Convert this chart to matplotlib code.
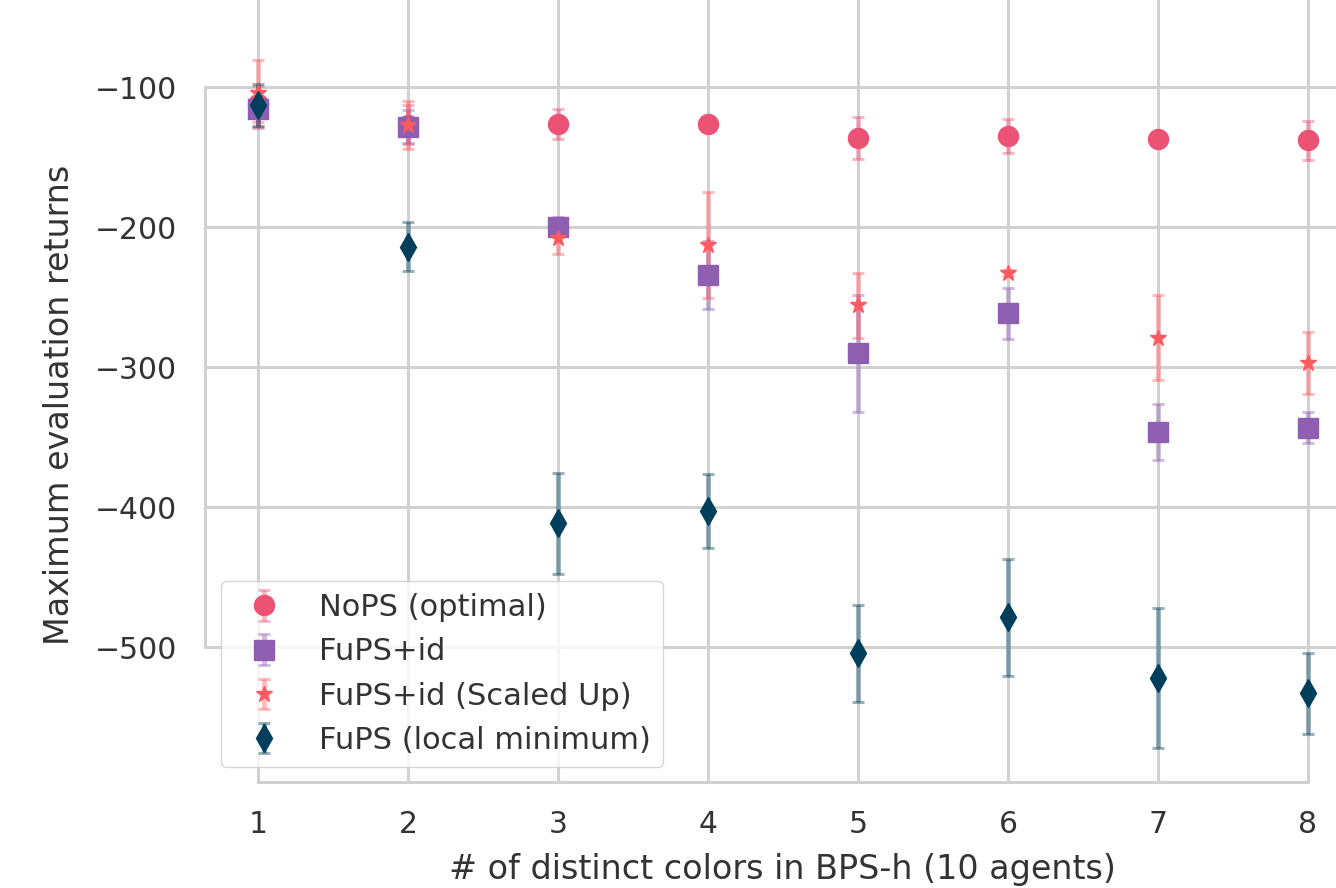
import matplotlib
matplotlib.use("Agg")
import matplotlib.pyplot as plt
import seaborn as sns
from matplotlib.colors import to_rgba

# number of distinct colors
n_colors = [1, 2, 3, 4, 5, 6, 7, 8]

nops_mean = [-112, -127, -126.6, -126.7, -136.7, -135, -137.4, -137.9]
nops_err = [13, 14, 10.7, 3, 15, 12, 3, 14]

fups_id_mean = [-116, -128.3, -199.8, -234.3, -290.2, -261.7, -346.2, -343.3]
fups_id_err = [13, 12, 7, 24, 41.6, 18, 20, 11]

scaled_mean = [-104.5, -127, -208, -212.9, -256, -233, -279, -296.9]
scaled_err = [24, 17, 11, 38, 23.5, 2, 30.6, 22]

fups_mean = [-113, -214, -411.7, -402.9, -504.5, -478.8, -522.4, -533.1]
fups_err = [15, 17.5, 36, 26.5, 34.5, 42, 50, 29]

labels = ["NoPS (optimal)", "FuPS+id", "FuPS+id (Scaled Up)", "FuPS (local minimum)"]
colors = ["#ec5274", "#8e5eb0", "#ff5a5f", "#003f5c"]
markers = ["o", "s", "*", "d"]
sizes = [14.4, 14.4, 12, 14.4]

sns.set_style("whitegrid")
plt.rcParams['font.family'] = ['DejaVu Sans']
plt.rcParams['grid.color'] = '.82'
plt.rcParams['grid.linewidth'] = 2.2
plt.rcParams['axes.edgecolor'] = '.82'
plt.rcParams['axes.linewidth'] = 2.2

fig = plt.figure(figsize=(13.36, 8.88), dpi=100)
ax = fig.add_axes([0.1534, 0.1194, 0.8638, 0.885])

series = [(nops_mean, nops_err), (fups_id_mean, fups_id_err),
          (scaled_mean, scaled_err), (fups_mean, fups_err)]
for (m, e), lab, c, mk, ms in zip(series, labels, colors, markers, sizes):
    ax.errorbar(n_colors, m, yerr=e, fmt=mk, color=c, ms=ms,
                ecolor=to_rgba(c, 0.4), elinewidth=3.5, capsize=4.5,
                capthick=2.2, label=lab)

ax.set_xticks(n_colors)
ax.set_yticks([-500, -400, -300, -200, -100])
ax.set_xlim(0.647, 8.34)
ax.set_ylim(-596.4, -35)
ax.tick_params(axis='both', labelsize=21.5, colors='#333333', length=0)
ax.tick_params(axis='y', pad=20)
ax.tick_params(axis='x', pad=20)
ax.set_xlabel("# of distinct colors in BPS-h (10 agents)", fontsize=24,
              color='#333333', labelpad=10)
ax.set_ylabel("Maximum evaluation returns", fontsize=24, color='#333333')
ax.yaxis.set_label_coords(-0.112, 0.48)
sns.despine(ax=ax, trim=True)
for s in ['left', 'bottom']:
    ax.spines[s].set_color('.82')

leg = ax.legend(loc='lower left', fontsize=22, frameon=True,
                bbox_to_anchor=(0.0139, 0.019), borderaxespad=0)
for t in leg.get_texts():
    t.set_color('#333333')

fig.savefig("out.png", dpi=100)
